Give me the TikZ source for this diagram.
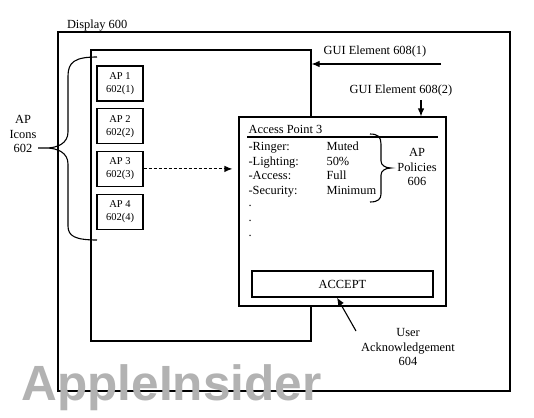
\documentclass[tikz,border=0pt]{standalone}
\usepackage{fontspec}
\setmainfont{Liberation Serif}
\newfontfamily\wmfont{Liberation Sans}
\usetikzlibrary{arrows.meta}

\begin{document}
\begin{tikzpicture}[x=1pt, y=-1pt, >={Latex[length=8pt, width=6.5pt]}, line width=1.1pt,
  font=\fontsize{12.4}{14.7}\selectfont,
  apicon/.style={draw, shape=rectangle, minimum width=46pt, minimum height=35pt, align=center, inner sep=1pt, font=\fontsize{10.5}{13}\selectfont}]
\useasboundingbox (0,0) rectangle (534,417);
\node[draw, shape=rectangle, minimum width=452pt, minimum height=359pt] (disp) at (284,211.5) {};
\node[anchor=south west, inner sep=0pt, xshift=9pt] (displbl) at (disp.north west) {Display 600};
\node[draw, shape=rectangle, minimum width=220pt, minimum height=291pt] (gui1) at (201,195.5) {};
\node[apicon] (ap1) at (120,83.5) {AP 1\\602(1)};
\node[apicon, below of=ap1, node distance=42.7pt] (ap2) {AP 2\\602(2)};
\node[apicon, below of=ap2, node distance=42.7pt] (ap3) {AP 3\\602(3)};
\node[apicon, below of=ap3, node distance=42.7pt] (ap4) {AP 4\\602(4)};
\node[align=center] (iconlbl) at (23,134) {AP\\Icons\\602};
\draw (97,57) .. controls (75,57) and (68,62) .. (68,76) -- (68,132) .. controls (68,143) and (58,148) .. (46,148) -- (38,148) -- (46,148) .. controls (58,148) and (68,153) .. (68,164) -- (68,226) .. controls (68,236) and (75,240) .. (97,240);
% policies window
\node[draw, shape=rectangle, fill=white, minimum width=207pt, minimum height=189pt] (apwin) at (342.5,211.5) {};
\node[anchor=base west, inner sep=0pt] (aptitle) at (248,133) {Access Point 3};
\draw (247,137) -- (438,137);
\node[anchor=north west, inner sep=0pt] (aprows) at (248,139.7) {\begin{tabular}{@{}p{78pt}@{}l@{}}
-Ringer: & Muted\\
-Lighting: & 50\%\\
-Access: & Full\\
-Security: & Minimum\\[-2.5pt]
. & \\
. & \\
. & \end{tabular}};
\draw (370,134) .. controls (378,134) and (381,137) .. (381,144) -- (381,161) .. controls (381,165) and (385,168) .. (391,168) .. controls (385,168) and (381,171) .. (381,175) -- (381,194) .. controls (381,199) and (378,202) .. (370,202);
\node[align=center] (polbl) at (417,167) {AP\\Policies\\606};
\node[draw, shape=rectangle, minimum width=181pt, minimum height=26pt] (accept) at (342.5,284) {ACCEPT};
\draw[->, densely dashed, shorten >=6pt] (ap3.east) -- (ap3.east -| apwin.west);
% gui element labels
\node (gui1lbl) at (375,52) {GUI Element 608(1)};
\coordinate (g1tail) at (441,64);
\draw[->] (g1tail) -- (g1tail -| gui1.east);
\node (gui2lbl) at (401,91) {GUI Element 608(2)};
\coordinate (g2tail) at (421,100);
\draw[->] (g2tail) -- (g2tail |- apwin.north);
\node[align=center] (acklbl) at (408,347) {User\\Acknowledgement\\604};
\coordinate (acktail) at (356,331);
\draw[->] (acktail) -- ([xshift=-5.5pt]accept.south);
\node[anchor=base west, inner sep=0pt, text=gray!60, font=\fontsize{49.5}{50}\selectfont\wmfont\bfseries] (wm) at (21,400) {AppleInsider};
\end{tikzpicture}
\end{document}
